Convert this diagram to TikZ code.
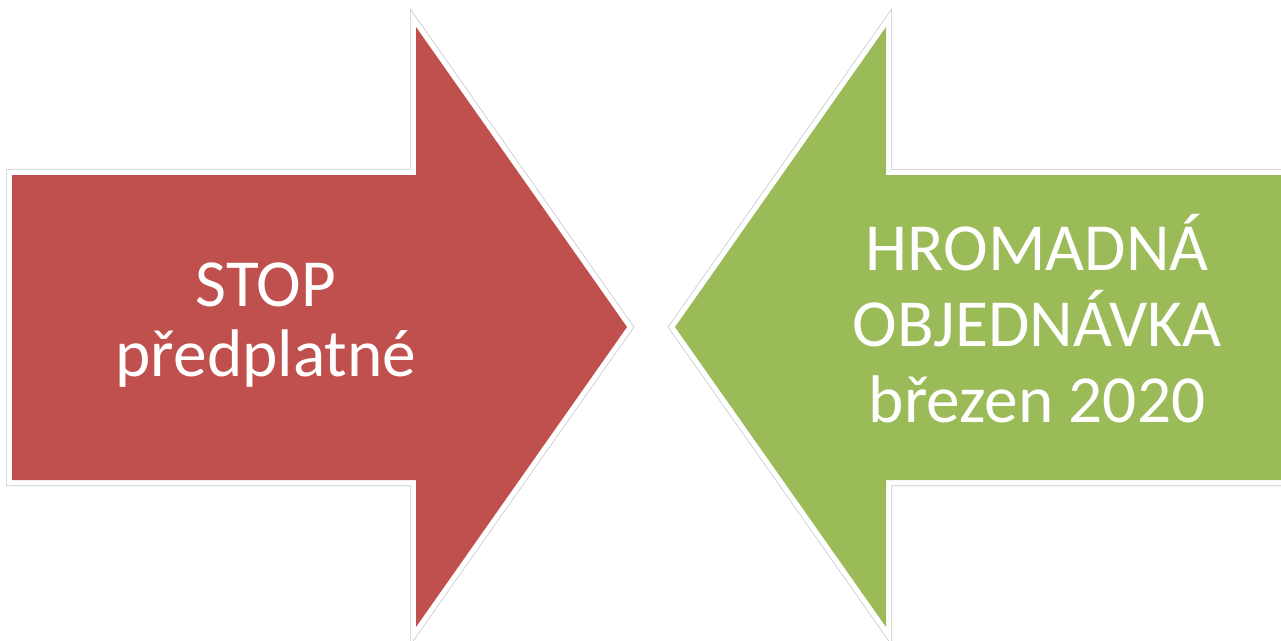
\documentclass[tikz,border=0pt]{standalone}
\usepackage{fontspec}
\setmainfont{Carlito}
\definecolor{arrowred}{HTML}{C0504D}
\definecolor{arrowgreen}{HTML}{9BBB59}

\begin{document}
\begin{tikzpicture}[x=0.75pt,y=-0.75pt]
\tikzset{
	rim/.style={draw=black!22, line width=9pt, line join=miter},
	whiterim/.style={draw=white, line width=7.9pt, line join=miter},
	arrowtext/.style={text=white, align=center}
}

\useasboundingbox (0,0) rectangle (1281,640);

% red arrow, pointing right
\def\redarrow{(12,175) -- (416,175) -- (416,27) -- (627,327) -- (416,627) -- (416,480) -- (12,480) -- cycle}
\path[rim] \redarrow;
\path[whiterim] \redarrow;
\path[fill=arrowred] \redarrow;

% green arrow, pointing left
\def\greenarrow{(1300,175) -- (886,175) -- (886,27) -- (675,327) -- (886,627) -- (886,480) -- (1300,480) -- cycle}
\path[rim] \greenarrow;
\path[whiterim] \greenarrow;
\path[fill=arrowgreen] \greenarrow;

\node[arrowtext, font=\fontsize{50.5}{53}\selectfont] (STOPLBL) at (266,325) {STOP\\předplatné};
\node[arrowtext, font=\fontsize{50.5}{57}\selectfont] (HROMLBL) at (1037,319) {HROMADNÁ\\OBJEDNÁVKA\\březen 2020};
\end{tikzpicture}
\end{document}
